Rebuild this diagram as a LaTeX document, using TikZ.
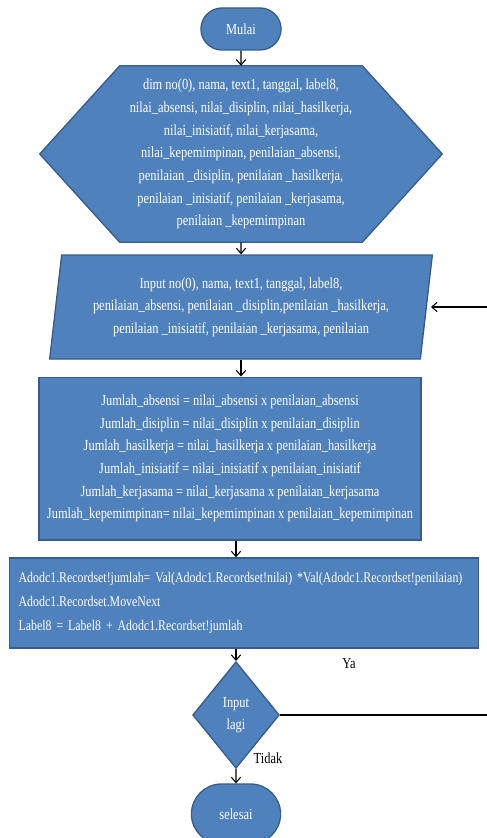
\documentclass[tikz,border=0pt]{standalone}
\usepackage{fontspec}
\setmainfont{Liberation Serif}[FakeStretch=0.81]
\usetikzlibrary{shapes.geometric, shapes.misc, backgrounds, arrows.meta}

\definecolor{boxblue}{HTML}{4F81BD}
\definecolor{boxline}{HTML}{385D8A}

\begin{document}
\begin{tikzpicture}[
        x=0.75pt, y=-0.75pt,
        every node/.style={align=center, font=\fontsize{11.5}{17}\selectfont},
        box/.style={draw=boxline, fill=boxblue, line width=1pt, text=white},
        terminal/.style={box, rounded rectangle},
        flow/.style={draw=black, line width=0.8pt, -{Straight Barb[length=4pt, width=7pt]}}
    ]
    \useasboundingbox (0,0) rectangle (486,838);
    \node[terminal, minimum width=66.75pt, minimum height=31.5pt] (mulai) at (241,29) {Mulai};
    \node[text=white, minimum width=181.5pt, minimum height=132pt, inner sep=0pt] (dim) at (241,154)
        {dim no(0), nama, text1, tanggal, label8,\\
         nilai\_absensi, nilai\_disiplin, nilai\_hasilkerja,\\
         nilai\_inisiatif, nilai\_kerjasama,\\
         nilai\_kepemimpinan, penilaian\_absensi,\\
         penilaian \_disiplin, penilaian \_hasilkerja,\\
         penilaian \_inisiatif, penilaian \_kerjasama,\\
         penilaian \_kepemimpinan};
    \begin{scope}[on background layer]
        \path[box] (dim.north west) -- (dim.north east) -- ([xshift=60pt]dim.east)
            -- (dim.south east) -- (dim.south west) -- ([xshift=-60pt]dim.west) -- cycle;
    \end{scope}
    \node[box, trapezium, trapezium left angle=80, trapezium right angle=100, trapezium stretches body,
        minimum width=287pt, minimum height=78pt] (input) at (241,307)
        {Input no(0), nama, text1, tanggal, label8,\\
         penilaian\_absensi, penilaian \_disiplin,penilaian \_hasilkerja,\\
         penilaian \_inisiatif, penilaian \_kerjasama, penilaian};
    \node[box, minimum width=286.5pt, minimum height=122pt] (hitung) at (230,458.5)
        {Jumlah\_absensi = nilai\_absensi x penilaian\_absensi\\
         Jumlah\_disiplin = nilai\_disiplin x penilaian\_disiplin\\
         Jumlah\_hasilkerja = nilai\_hasilkerja x penilaian\_hasilkerja\\
         Jumlah\_inisiatif = nilai\_inisiatif x penilaian\_inisiatif\\
         Jumlah\_kerjasama = nilai\_kerjasama x penilaian\_kerjasama\\
         Jumlah\_kepemimpinan= nilai\_kepemimpinan x penilaian\_kepemimpinan};
    \node[box, align=left, text width=338pt, inner xsep=7pt, minimum height=67.5pt,
        font=\fontsize{11}{18}\selectfont] (proses) at (244,603)
        {Adodc1.Recordset!jumlah= Val(Adodc1.Recordset!nilai) *Val(Adodc1.Recordset!penilaian)\\
         Adodc1.Recordset.MoveNext\\
         Label8 = Label8 + Adodc1.Recordset!jumlah};
    \node[box, diamond, minimum width=65pt, minimum height=80pt, inner sep=0pt] (tanya) at (236,715)
        {Input\\lagi};
    \node[terminal, minimum width=73.5pt, minimum height=45pt] (selesai) at (236,814) {selesai};
    \coordinate (balik) at (492,0);

    \draw[flow] (mulai) -- (dim);
    \draw[flow] (dim) -- (input);
    \draw[flow] (input.south) -- (input.south |- hitung.north);
    \draw[flow] (hitung.south -| tanya) -- (proses.north -| tanya);
    \draw[flow] (proses.south -| tanya) -- (tanya);
    \draw[flow] (tanya) -- (selesai);
    \draw[flow] (tanya.east) -- (tanya.east -| balik) |- ([xshift=3pt]input.east);
    \node at (349,664) {Ya};
    \node at (268,758) {Tidak};
\end{tikzpicture}
\end{document}
